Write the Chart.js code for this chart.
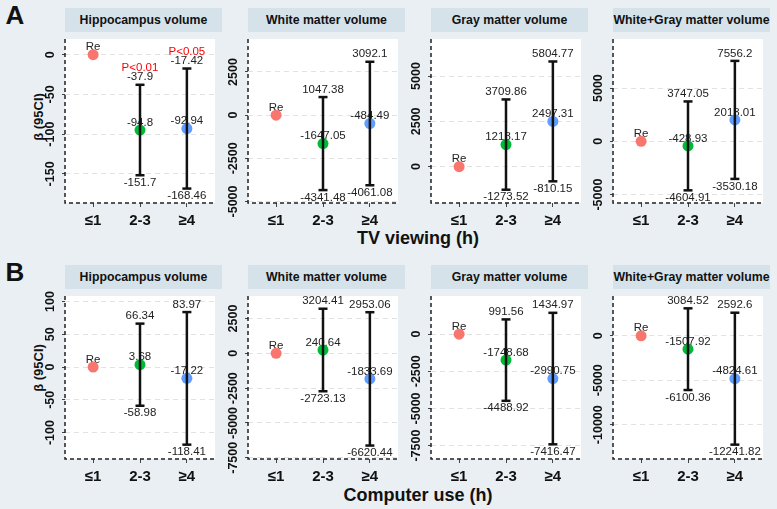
<!DOCTYPE html>
<html>
<head>
<meta charset="utf-8">
<script src="https://cdn.jsdelivr.net/npm/chart.js@4.4.0/dist/chart.umd.min.js"></script>
<style>
  body { margin: 0; background: #e9eff2; font-family: 'Liberation Sans', Arial, sans-serif; }
  #fig { position: relative; width: 777px; height: 509px; overflow: hidden; background: #e9eff2; color: #111; }
  .strip { position: absolute; height: 24px; line-height: 24px; background: #d6e2ea; text-align: center;
           font-weight: bold; font-size: 12.3px; white-space: nowrap; overflow: hidden; }
  .panel { position: absolute; }
  .lbl { position: absolute; font-weight: bold; line-height: 1; white-space: nowrap; transform: translate(-50%, -50%); }
  .rot { transform: translate(-50%, -50%) rotate(-90deg); }
</style>
</head>
<body>
<div id="fig"></div>
<script>
// ---- data ----
const groups = ["≤1", "2-3", "≥4"];
const pointColors = ["#F8766D", "#00BA38", "#619CFF"];
const panelTitles = ["Hippocampus volume", "White matter volume", "Gray matter volume", "White+Gray matter volume"];

// A: TV viewing  (one row per panel: ≤1 (ref), 2-3, ≥4)
const tvBeta  = [[0, -94.8, -92.94], [0, -1647.05, -484.49], [0, 1218.17, 2497.31], [0, -428.93, 2013.01]];
const tvLower = [[null, -151.7, -168.46], [null, -4341.48, -4061.08], [null, -1273.52, -810.15], [null, -4604.91, -3530.18]];
const tvUpper = [[null, -37.9, -17.42], [null, 1047.38, 3092.1], [null, 3709.86, 5804.77], [null, 3747.05, 7556.2]];
const tvP     = [[null, "P<0.01", "P<0.05"], [null, null, null], [null, null, null], [null, null, null]];
const tvTicks = [[0, -50, -100, -150], [2500, 0, -2500, -5000], [0, 2500, 5000], [-5000, 0, 5000]];
const tvRange = [[-186.6, 19.7], [-5089, 4411], [-2007, 7046], [-5793, 9613]];

// B: Computer use
const pcBeta  = [[0, 3.68, -17.22], [0, 240.64, -1833.69], [0, -1748.68, -2990.75], [0, -1507.92, -4824.61]];
const pcLower = [[null, -58.98, -118.41], [null, -2723.13, -6620.44], [null, -4488.92, -7416.47], [null, -6100.36, -12241.82]];
const pcUpper = [[null, 66.34, 83.97], [null, 3204.41, 2953.06], [null, 991.56, 1434.97], [null, 3084.52, 2592.6]];
const pcP     = [[null, null, null], [null, null, null], [null, null, null], [null, null, null]];
const pcTicks = [[100, 50, 0, -50, -100], [2500, 0, -2500, -5000, -7500], [0, -2500, -5000, -7500], [0, -5000, -10000]];
const pcRange = [[-140.3, 108.5], [-7586, 4117], [-8405, 2567], [-13855, 4471]];

// ---- layout ----
const FONT = "'Liberation Sans', Arial, Helvetica, sans-serif";
Chart.defaults.font.family = FONT;
Chart.defaults.color = "#111";

const rows = [
  { tag: "A", xTitle: "TV viewing (h)", top: 32, bottom: 203, xTitleY: 238, yTitleY: 117,
    beta: tvBeta, lower: tvLower, upper: tvUpper, pval: tvP, ticks: tvTicks, range: tvRange },
  { tag: "B", xTitle: "Computer use (h)", top: 289, bottom: 459, xTitleY: 495, yTitleY: 368,
    beta: pcBeta, lower: pcLower, upper: pcUpper, pval: pcP, ticks: pcTicks, range: pcRange }
];
const lefts = [65, 248, 431, 613];
const plotW = 157;
const yAxisW = 40, xAxisH = 32;

const fig = document.getElementById("fig");
const measure = document.createElement("canvas").getContext("2d");

function addText(txt, x, y, size, cls) {
  const d = document.createElement("div");
  d.className = "lbl" + (cls ? " " + cls : "");
  d.style.left = x + "px";
  d.style.top = y + "px";
  d.style.fontSize = size + "px";
  d.textContent = txt;
  fig.appendChild(d);
}

// white panel background + dashed left/bottom axis lines
const panelFrame = {
  id: "panelFrame",
  beforeDraw(chart) {
    const a = chart.chartArea;
    chart.ctx.save();
    chart.ctx.fillStyle = "#ffffff";
    chart.ctx.fillRect(a.left, a.top, a.right - a.left, a.bottom - a.top);
    chart.ctx.restore();
  },
  afterDraw(chart) {
    const a = chart.chartArea, ctx = chart.ctx;
    ctx.save();
    ctx.strokeStyle = "#222";
    ctx.lineWidth = 1.5;
    ctx.setLineDash([4, 3]);
    ctx.beginPath();
    ctx.moveTo(a.left, a.top);
    ctx.lineTo(a.left, a.bottom);
    ctx.lineTo(a.right, a.bottom);
    ctx.stroke();
    ctx.restore();
  }
};

function makePanel(row, p) {
  const L = lefts[p];
  const H = row.bottom - row.top;
  const beta = row.beta[p], lower = row.lower[p], upper = row.upper[p], pval = row.pval[p];
  const ticks = row.ticks[p];

  // strip title
  const s = document.createElement("div");
  s.className = "strip";
  s.style.left = L + "px";
  s.style.top = (row.top - 24) + "px";
  s.style.width = plotW + "px";
  s.textContent = panelTitles[p];
  fig.appendChild(s);

  const wrap = document.createElement("div");
  wrap.className = "panel";
  wrap.style.left = (L - yAxisW) + "px";
  wrap.style.top = row.top + "px";
  const cv = document.createElement("canvas");
  cv.width = plotW + yAxisW;
  cv.height = H + xAxisH;
  wrap.appendChild(cv);
  fig.appendChild(wrap);

  // center rotated tick labels ~14px left of the axis
  measure.font = "bold 12.5px " + FONT;
  const widest = Math.max(...ticks.map(v => measure.measureText(String(v)).width));
  const tickPad = 14 - 3 - widest / 2;

  const ciLabels = {
    id: "ciLabels",
    beforeDatasetsDraw(chart) {
      const { ctx, scales: { x, y } } = chart;
      ctx.save();
      ctx.font = "11.5px " + FONT;
      ctx.textAlign = "center";
      ctx.textBaseline = "middle";
      beta.forEach((b, i) => {
        const px = x.getPixelForValue(i + 1);
        ctx.fillStyle = "#222";
        ctx.fillText(i === 0 ? "Re" : String(b), px, y.getPixelForValue(b) - 7.5);
        if (upper[i] != null) {
          const yu = y.getPixelForValue(upper[i]);
          ctx.fillText(String(upper[i]), px, yu - 7.5);
          ctx.fillText(String(lower[i]), px, y.getPixelForValue(lower[i]) + 7.5);
          if (pval[i]) {
            ctx.fillStyle = "#ff0000";
            ctx.fillText(pval[i], px, yu - 17);
          }
        }
      });
      ctx.restore();
    }
  };

  const errorBars = [1, 2].map(i => ({
    type: "line",
    data: [{ x: i + 1, y: lower[i] }, { x: i + 1, y: upper[i] }],
    borderColor: "#111",
    borderWidth: 2.5,
    pointStyle: "line",
    pointRadius: 4.5,
    pointBorderWidth: 2.5,
    pointBorderColor: "#111",
    fill: false
  }));

  new Chart(cv, {
    type: "scatter",
    data: {
      datasets: [
        ...errorBars,
        {
          type: "scatter",
          data: beta.map((b, i) => ({ x: i + 1, y: b })),
          backgroundColor: pointColors,
          pointRadius: 5.5,
          pointBorderWidth: 0
        }
      ]
    },
    options: {
      responsive: false,
      animation: false,
      events: [],
      layout: { padding: 0 },
      plugins: { legend: { display: false }, tooltip: { enabled: false } },
      scales: {
        x: {
          type: "linear", min: 0.4, max: 3.6,
          afterBuildTicks: sc => { sc.ticks = [1, 2, 3].map(v => ({ value: v })); },
          afterFit: sc => { sc.height = xAxisH; sc.paddingLeft = 0; sc.paddingRight = 0; },
          ticks: { callback: v => groups[v - 1], font: { size: 15, weight: "bold" }, color: "#111",
                   padding: 5, autoSkip: false, maxRotation: 0 },
          grid: { drawOnChartArea: false, tickLength: 4, tickColor: "#444", tickWidth: 1 },
          border: { display: false }
        },
        y: {
          type: "linear", min: row.range[p][0], max: row.range[p][1],
          afterBuildTicks: sc => { sc.ticks = ticks.map(v => ({ value: v })); },
          afterFit: sc => { sc.width = yAxisW; sc.paddingTop = 0; sc.paddingBottom = 0; },
          ticks: { callback: v => String(v), font: { size: 12.5, weight: "bold" }, color: "#111",
                   minRotation: 90, maxRotation: 90, crossAlign: "center", padding: tickPad, autoSkip: false },
          grid: { color: "#e2e2e2", lineWidth: 1, tickLength: 3, tickColor: "#444" },
          border: { display: false, dash: [5, 4] }
        }
      }
    },
    plugins: [panelFrame, ciLabels]
  });
}

rows.forEach((row, r) => {
  addText(row.tag, 15, r === 0 ? 15 : 272, 26);
  addText(row.xTitle, 418, row.xTitleY, 18);
  addText("β (95CI)", 38, row.yTitleY, 13, "rot");
  for (let p = 0; p < 4; p++) makePanel(row, p);
});
</script>
</body>
</html>
